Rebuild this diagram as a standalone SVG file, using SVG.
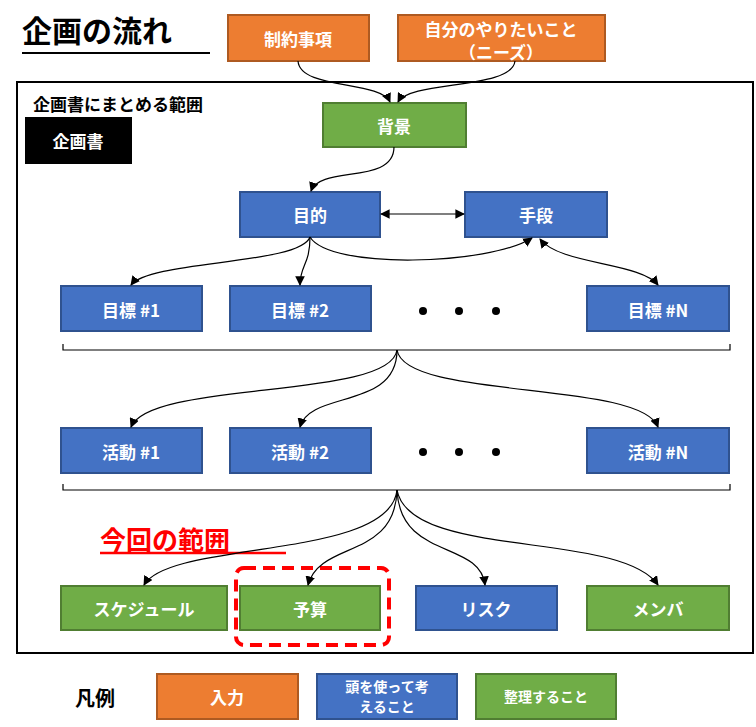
<svg xmlns="http://www.w3.org/2000/svg" width="756" height="727" viewBox="0 0 756 727">
<style>
text{font-family:"Noto Sans CJK JP","Noto Sans",sans-serif;font-weight:bold}
.o{fill:#ED7D31;stroke:#AE5A21;stroke-width:2}
.b{fill:#4472C4;stroke:#2F528F;stroke-width:2}
.g{fill:#70AD47;stroke:#507E32;stroke-width:2}
.t{fill:#fff;font-size:17px;text-anchor:middle;dominant-baseline:central}
.c{fill:none;stroke:#000;stroke-width:1.2}
</style>
<defs><marker id="a" viewBox="0 0 10 10" refX="9" refY="5" markerWidth="8" markerHeight="8" orient="auto-start-reverse"><path d="M0,0L10,5L0,10z"/></marker></defs>
<rect width="756" height="727" fill="#fff"/>
<g id="title"><text x="22" y="42" font-size="30" fill="#000">企画の流れ</text><line x1="22" y1="53" x2="210" y2="53" stroke="#000" stroke-width="2"/></g>
<g id="frame"><rect x="17" y="82" width="736" height="571" fill="none" stroke="#000" stroke-width="2"/><text x="33" y="111" font-size="17">企画書にまとめる範囲</text></g>
<g id="kikakusho"><rect x="25" y="117" width="107" height="47" fill="#000"/><text class="t" x="78" y="140">企画書</text></g>
<g id="n1"><rect class="o" x="228" y="15" width="141" height="46"/><text class="t" x="298" y="38">制約事項</text></g>
<g id="n2"><rect class="o" x="398" y="15" width="207" height="46"/><text class="t" x="501" y="28">自分のやりたいこと</text><text class="t" x="501" y="51">（ニーズ）</text></g>
<g id="haikei"><rect class="g" x="323" y="103" width="143" height="44"/><text class="t" x="394" y="125">背景</text></g>
<g id="mokuteki"><rect class="b" x="240" y="192" width="140" height="45"/><text class="t" x="310" y="214">目的</text></g>
<g id="shudan"><rect class="b" x="465" y="192" width="142" height="45"/><text class="t" x="536" y="214">手段</text></g>
<g id="h1"><rect class="b" x="61" y="286" width="141" height="45"/><text class="t" x="131" y="309">目標 #1</text></g>
<g id="h2"><rect class="b" x="230" y="286" width="141" height="45"/><text class="t" x="300" y="309">目標 #2</text></g>
<g id="hN"><rect class="b" x="587" y="286" width="142" height="45"/><text class="t" x="658" y="309">目標 #N</text></g>
<g id="d1"><circle cx="423" cy="311" r="4"/><circle cx="459" cy="311" r="4"/><circle cx="496" cy="311" r="4"/></g>
<g id="a1"><rect class="b" x="61" y="428" width="141" height="45"/><text class="t" x="131" y="451">活動 #1</text></g>
<g id="a2"><rect class="b" x="230" y="428" width="141" height="45"/><text class="t" x="300" y="451">活動 #2</text></g>
<g id="aN"><rect class="b" x="587" y="428" width="142" height="45"/><text class="t" x="658" y="451">活動 #N</text></g>
<g id="d2"><circle cx="423" cy="452" r="4"/><circle cx="459" cy="452" r="4"/><circle cx="496" cy="452" r="4"/></g>
<g id="scope"><text x="100" y="550" font-size="26" fill="#FF0000">今回の範囲</text><line x1="100" y1="553" x2="286" y2="553" stroke="#FF0000" stroke-width="2.5"/></g>
<g id="sched"><rect class="g" x="61" y="586" width="166" height="44"/><text class="t" x="144" y="608">スケジュール</text></g>
<g id="yosan"><rect class="g" x="240" y="586" width="140" height="44"/><text class="t" x="310" y="608">予算</text></g>
<g id="risk"><rect class="b" x="416" y="586" width="141" height="44"/><text class="t" x="486" y="608">リスク</text></g>
<g id="member"><rect class="g" x="587" y="586" width="142" height="44"/><text class="t" x="658" y="608">メンバ</text></g>
<rect x="236" y="568" width="153" height="77" rx="8" fill="none" stroke="#FF0000" stroke-width="4" stroke-dasharray="12,7"/>
<g id="legend"><text x="75" y="706" font-size="20">凡例</text>
<rect class="o" x="157" y="674" width="141" height="45"/><text class="t" x="227" y="696" font-size="15">入力</text>
<rect class="b" x="317" y="674" width="140" height="45"/><text class="t" x="387" y="686" style="font-size:14px">頭を使って考</text><text class="t" x="387" y="706" style="font-size:14px">えること</text>
<rect class="g" x="476" y="674" width="140" height="45"/><text class="t" x="546" y="696" style="font-size:14px">整理すること</text></g>
<g id="connectors">
<path class="c" marker-end="url(#a)" d="M298,61C300,90 380,80 390,102"/>
<path class="c" marker-end="url(#a)" d="M515,61C512,90 410,80 398,102"/>
<path class="c" marker-end="url(#a)" d="M394,147C394,185 320,165 311,191"/>
<path class="c" marker-start="url(#a)" marker-end="url(#a)" d="M381,214L464,214"/>
<path class="c" marker-end="url(#a)" d="M310,237C300,265 150,260 131,285"/>
<path class="c" marker-end="url(#a)" d="M310,237C310,265 300,265 300,285"/>
<path class="c" marker-end="url(#a)" d="M310,237C330,270 490,265 532,238"/>
<path class="c" marker-start="url(#a)" marker-end="url(#a)" d="M540,239C560,265 640,262 658,285"/>
<path class="c" d="M63,344V350H730V344"/>
<path class="c" marker-end="url(#a)" d="M397,350C390,400 150,380 131,427"/>
<path class="c" marker-end="url(#a)" d="M397,350C397,410 310,390 300,427"/>
<path class="c" marker-end="url(#a)" d="M397,350C405,400 640,380 658,427"/>
<path class="c" d="M63,484V490H730V484"/>
<path class="c" marker-end="url(#a)" d="M397,490C390,560 170,540 144,585"/>
<path class="c" marker-end="url(#a)" d="M397,490C395,560 320,540 308,585"/>
<path class="c" marker-end="url(#a)" d="M397,490C400,560 480,540 485,585"/>
<path class="c" marker-end="url(#a)" d="M397,490C410,560 620,530 658,585"/>
</g>
</svg>
